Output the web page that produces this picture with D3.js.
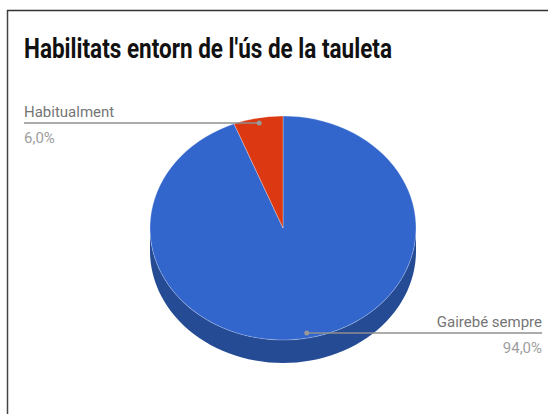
<!DOCTYPE html>
<html>
<head>
<meta charset="utf-8">
<script src="https://cdn.jsdelivr.net/npm/d3@7"></script>
<style>
  html, body { margin: 0; padding: 0; background: #fff; }
  svg { display: block; }
</style>
</head>
<body>
<script>
const title = "Habilitats entorn de l'ús de la tauleta";
const categories = ["Gairebé sempre", "Habitualment"];
const values = [94.0, 6.0];
const percentLabels = ["94,0%", "6,0%"];
const colors = ["#3366cc", "#dc3912"];
const sideColors = ["#254b95", "#a12a0d"];

const W = 548, H = 414;
const svg = d3.select("body").append("svg").attr("width", W).attr("height", H);

// frame lines (left and top)
svg.append("line").attr("x1", 7.5).attr("x2", 7.5).attr("y1", 10).attr("y2", H).attr("stroke", "#444").attr("stroke-width", 1.5);
svg.append("line").attr("x1", 7).attr("x2", W).attr("y1", 10.5).attr("y2", 10.5).attr("stroke", "#333").attr("stroke-width", 1.5);

svg.append("text").attr("x", 24).attr("y", 58)
  .attr("font-family", "Roboto").attr("font-weight", "bold").attr("font-size", 28)
  .attr("fill", "#111").attr("textLength", 368).attr("lengthAdjust", "spacingAndGlyphs")
  .text(title);

const cx = 283, cy = 228, rx = 133, ry = 112, depth = 23;
const pie = d3.pie().sort(null).value(d => d)(values);

const px = a => cx + rx * Math.sin(a);
const py = a => cy - ry * Math.cos(a);

// side walls (front half only)
const g = svg.append("g");
pie.forEach((s, i) => {
  const a0 = Math.max(s.startAngle, Math.PI / 2);
  const a1 = Math.min(s.endAngle, 3 * Math.PI / 2);
  if (a1 <= a0) return;
  const n = 60;
  const angs = d3.range(n + 1).map(k => a0 + (a1 - a0) * k / n);
  const top = angs.map(a => [px(a), py(a)]);
  const bot = angs.slice().reverse().map(a => [px(a), py(a) + depth]);
  g.append("path").attr("d", d3.line()(top.concat(bot)) + "Z").attr("fill", sideColors[i]);
});

// top ellipse
const arc = d3.arc().innerRadius(0).outerRadius(rx);
const topG = svg.append("g").attr("transform", `translate(${cx},${cy}) scale(1,${ry / rx})`);
topG.selectAll("path").data(pie).enter().append("path")
  .attr("d", arc).attr("fill", (d, i) => colors[i])
  .attr("stroke", "#ffffff").attr("stroke-opacity", 0.35).attr("stroke-width", 0.8).attr("vector-effect", "non-scaling-stroke");

// labels
const k = 0.955;
pie.forEach((s, i) => {
  const m = (s.startAngle + s.endAngle) / 2;
  const dx = cx + rx * k * Math.sin(m), dy = cy - ry * k * Math.cos(m);
  const right = Math.sin(m) >= 0;
  const ex = right ? 542 : 24;
  svg.append("line").attr("x1", dx).attr("x2", ex).attr("y1", dy).attr("y2", dy)
    .attr("stroke", "#8f8f8f").attr("stroke-width", 1.5);
  svg.append("circle").attr("cx", dx).attr("cy", dy).attr("r", 2.5).attr("fill", "#999");
  const anchor = right ? "end" : "start";
  svg.append("text").attr("x", ex).attr("y", dy - 6).attr("text-anchor", anchor)
    .attr("font-family", "Roboto").attr("font-size", 15).attr("fill", "#757575")
    .text(categories[i]);
  svg.append("text").attr("x", ex).attr("y", dy + 20).attr("text-anchor", anchor)
    .attr("font-family", "Roboto").attr("font-size", 15).attr("fill", "#9e9e9e")
    .text(percentLabels[i]);
});
</script>
</body>
</html>
